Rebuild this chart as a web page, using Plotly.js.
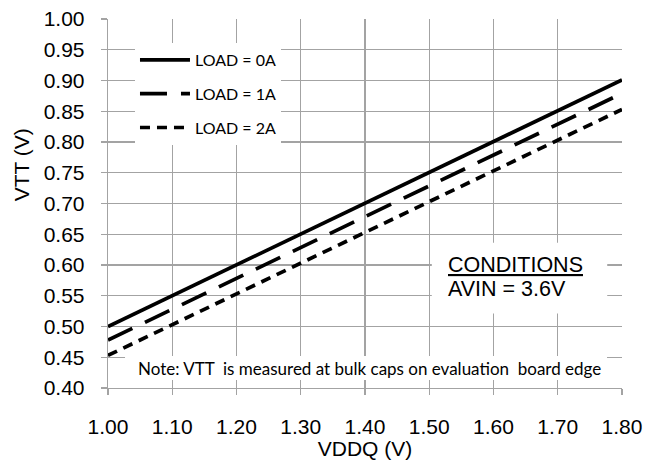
<!DOCTYPE html>
<html>
<head>
<meta charset="utf-8">
<script src="https://cdn.plot.ly/plotly-3.0.1.min.js"></script>
<style>html,body{margin:0;padding:0;background:#fff;}#chart{width:661px;height:460px;}</style>
</head>
<body>
<div id="chart"></div>
<script>
// Data
const vddq = [1.00, 1.10, 1.20, 1.30, 1.40, 1.50, 1.60, 1.70, 1.80];
const vttLoad0A = [0.500, 0.550, 0.600, 0.650, 0.700, 0.750, 0.800, 0.850, 0.901];
const vttLoad1A = [0.478, 0.528, 0.578, 0.628, 0.678, 0.728, 0.778, 0.828, 0.879];
const vttLoad2A = [0.453, 0.503, 0.553, 0.603, 0.653, 0.703, 0.753, 0.803, 0.853];
const seriesNames = ["LOAD = 0A", "LOAD = 1A", "LOAD = 2A"];
const xTickVals = [1.00, 1.10, 1.20, 1.30, 1.40, 1.50, 1.60, 1.70, 1.80];
const yTickVals = [0.40, 0.45, 0.50, 0.55, 0.60, 0.65, 0.70, 0.75, 0.80, 0.85, 0.90, 0.95, 1.00];

const gridCol = '#a3a3a3';
const tickFont = {family: 'Liberation Sans, Arial, sans-serif', size: 21, color: '#000'};
const calFont = 'Lato, Carlito, Calibri, sans-serif';

const traces = [
  {x: vddq, y: vttLoad0A, name: seriesNames[0], legendgroup: 'g0', mode: 'lines',
   line: {color: '#000', width: 3.7, dash: 'solid'}},
  {x: vddq, y: vttLoad1A, name: seriesNames[1], legendgroup: 'g1', mode: 'lines',
   line: {color: '#000', width: 3.7, dash: '27px,14px'}},
  {x: vddq, y: vttLoad2A, name: seriesNames[2], legendgroup: 'g2', mode: 'lines',
   line: {color: '#000', width: 3.7, dash: '10px,7px'}}
];

const layout = {
  width: 661, height: 460,
  margin: {l: 108, r: 39, t: 19, b: 72, pad: 0},
  paper_bgcolor: '#fff', plot_bgcolor: '#fff',
  showlegend: true,
  legend: {
    x: 0.0525, y: 0.935, xanchor: 'left', yanchor: 'top',
    bgcolor: '#fff', borderwidth: 0,
    traceorder: 'grouped', tracegroupgap: 10, itemwidth: 50,
    font: {family: calFont, size: 16, color: '#000'}
  },
  xaxis: {
    range: [1.0, 1.8], tickvals: xTickVals, tickformat: '.2f',
    showgrid: true, gridcolor: gridCol, gridwidth: 1.3,
    showline: true, linecolor: gridCol, linewidth: 1.3, mirror: false,
    ticks: 'outside', ticklen: 6, tickcolor: gridCol, tickwidth: 1.3,
    tickfont: tickFont, ticklabelstandoff: 13, zeroline: false,
    title: {text: 'VDDQ (V)', font: tickFont, standoff: 6}
  },
  yaxis: {
    range: [0.4, 1.0], tickvals: yTickVals, tickformat: '.2f',
    showgrid: true, gridcolor: gridCol, gridwidth: 1.3,
    showline: true, linecolor: gridCol, linewidth: 1.3,
    ticks: 'outside', ticklen: 6, tickcolor: gridCol, tickwidth: 1.3,
    tickfont: tickFont, ticklabelstandoff: 12, zeroline: false
  },
  shapes: [
    {type: 'rect', xref: 'x', yref: 'y', x0: 1.0265, x1: 1.7767, y0: 0.413, y1: 0.452,
     fillcolor: '#fff', line: {width: 0}, layer: 'above'},
    {type: 'rect', xref: 'x', yref: 'y', x0: 1.504, x1: 1.777, y0: 0.521, y1: 0.636,
     fillcolor: '#fff', line: {width: 0}, layer: 'above'}
  ],
  annotations: [
    {text: 'VTT (V)', textangle: -90, xref: 'paper', yref: 'paper', x: -0.169, y: 0.604,
     xanchor: 'center', yanchor: 'middle', showarrow: false, font: tickFont},
    {text: 'Note: VTT&nbsp; is measured at bulk caps on evaluation&nbsp; board edge',
     xref: 'x', yref: 'y', x: 1.407, y: 0.4325, xanchor: 'center', yanchor: 'middle',
     showarrow: false, font: {family: calFont, size: 17, color: '#000'}},
    {text: '<u>CONDITIONS</u>', xref: 'x', yref: 'y', x: 1.5265, y: 0.6, xanchor: 'left', yanchor: 'middle',
     showarrow: false, font: {family: 'Liberation Sans, Arial, sans-serif', size: 21.5, color: '#000'}},
    {text: 'AVIN = 3.6V', xref: 'x', yref: 'y', x: 1.5265, y: 0.561, xanchor: 'left', yanchor: 'middle',
     showarrow: false, font: {family: 'Liberation Sans, Arial, sans-serif', size: 21.5, color: '#000'}}
  ]
};

Plotly.newPlot('chart', traces, layout, {displayModeBar: false, staticPlot: true});
</script>
</body>
</html>
